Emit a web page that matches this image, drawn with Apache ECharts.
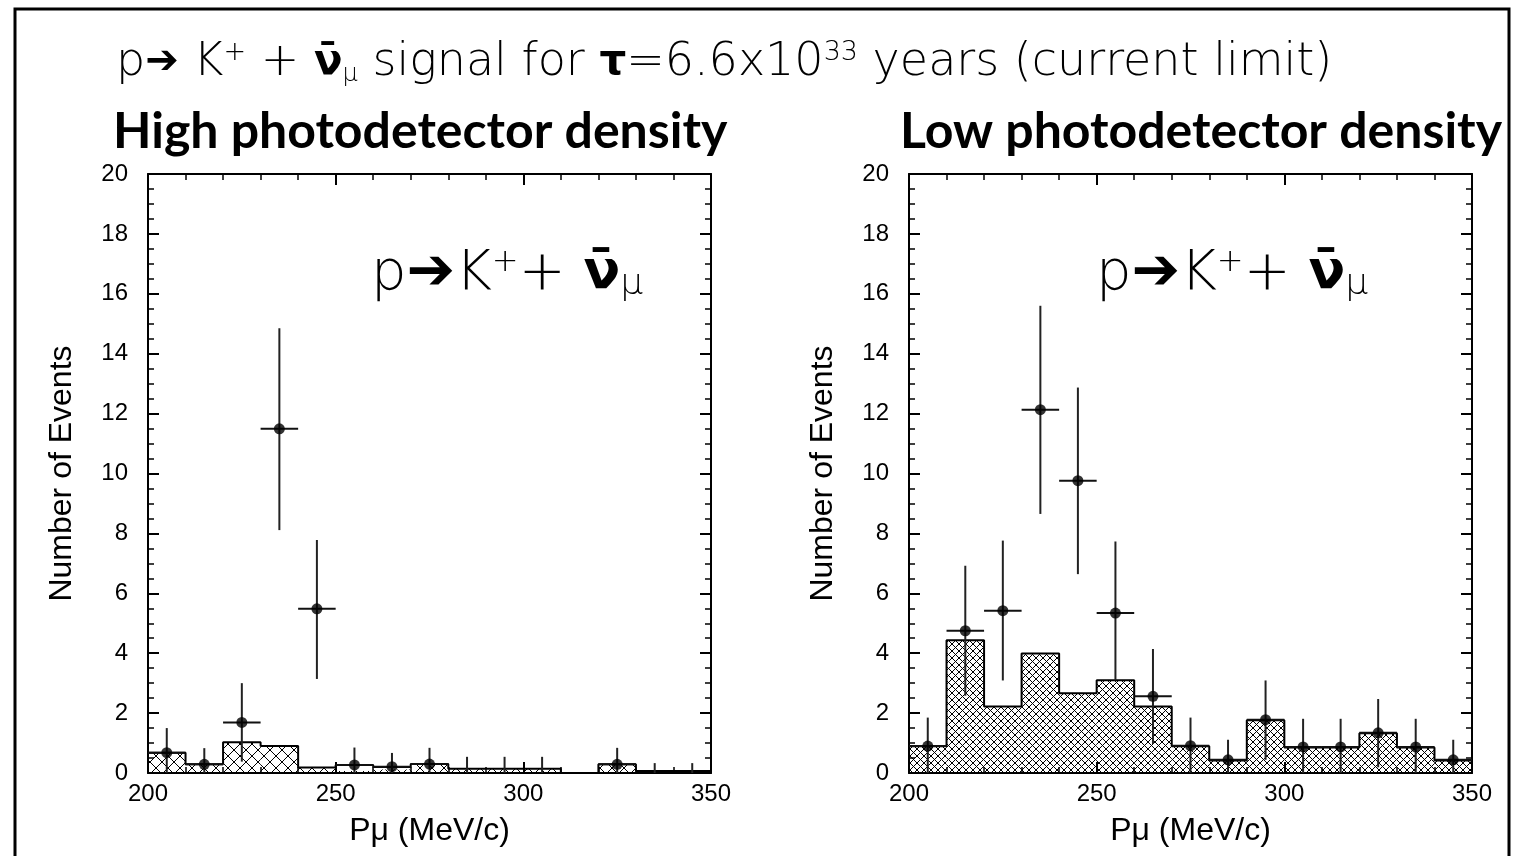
<!DOCTYPE html>
<html><head><meta charset="utf-8">
<script src="https://cdn.jsdelivr.net/npm/echarts@6/dist/echarts.min.js"></script>
<style>html,body{margin:0;padding:0;background:#fff}#c{width:1513px;height:856px}</style>
</head><body><div id="c"></div>
<script>
// ---- data ----
const binEdges   = [200,210,220,230,240,250,260,270,280,290,300,310,320,330,340,350];
const binCenters = [205,215,225,235,245,255,265,275,285,295,305,315,325,335,345];
// High photodetector density
const leftHatch   = [0.68,0.29,1.03,0.90,0.18,0.07,0.12,0.30,0.14,0.14,0.14,0.00,0.29,0.07,0.07];
const leftOutline = [0.68,0.29,1.03,0.90,0.18,0.27,0.20,0.30,0.14,0.14,0.14,0.00,0.29,0.07,0.07];
const leftY    = [0.68,0.29,1.69,11.49,5.48,0.27,0.21,0.30,0,0,0,null,0.29,0,0];
const leftLo   = [0,0,0.38,8.11,3.14,0,0,0,0,0,0,null,0,0,0];
const leftHi   = [1.50,0.83,3.00,14.85,7.78,0.85,0.67,0.84,0.54,0.54,0.54,null,0.84,0.33,0.33];
// Low photodetector density
const rightHatch = [0.89,4.43,2.22,3.99,2.66,3.10,2.22,0.89,0.42,1.76,0.85,0.85,1.33,0.85,0.42];
const rightY  = [0.90,4.75,5.42,12.13,9.76,5.34,2.56,0.91,0.44,1.78,0.87,0.87,1.34,0.87,0.44];
const rightLo = [0,2.58,3.09,8.65,6.64,3.09,0.97,0,0,0.44,0,0,0.19,0,0];
const rightHi = [1.85,6.92,7.76,15.6,12.87,7.73,4.14,1.85,1.11,3.09,1.81,1.81,2.47,1.81,1.11];
const xRange = {min:200, max:350, interval:50};
const yRange = {min:0, max:20, interval:2};
const panelTitles = ['High photodetector density','Low photodetector density'];
const xName = 'Pμ (MeV/c)';
const yName = 'Number of Events';

// ---- patterns ----
function hatch(p, lw){
  const c = document.createElement('canvas'); c.width = p; c.height = p;
  const g = c.getContext('2d');
  g.strokeStyle = '#000'; g.lineWidth = lw;
  g.beginPath();
  g.moveTo(-1,-1); g.lineTo(p+1,p+1);
  g.moveTo(p+1,-1); g.lineTo(-1,p+1);
  g.stroke();
  return {image:c, repeat:'repeat'};
}
const patL = hatch(12, 1);
const patR = hatch(7, 1);

const chart = echarts.init(document.getElementById('c'), null, {renderer:'canvas'});
const tickFont = {color:'#000', fontSize:24, fontFamily:'Liberation Sans'};
const nameFont = {color:'#000', fontSize:32, fontFamily:'Liberation Sans'};
function xAxes(gi){
  const base = {gridIndex:gi, type:'value', min:xRange.min, max:xRange.max, interval:xRange.interval,
    axisLine:{onZero:false, lineStyle:{color:'#000', width:2}},
    axisTick:{inside:true, length:11, lineStyle:{color:'#000', width:2}},
    minorTick:{show:true, splitNumber:5, length:6, lineStyle:{color:'#000', width:1.5}},
    splitLine:{show:false}, minorSplitLine:{show:false}};
  return [
    Object.assign({}, base, {position:'bottom', axisLabel:Object.assign({margin:9}, tickFont),
      name:xName, nameLocation:'middle', nameGap:42, nameTextStyle:nameFont}),
    Object.assign({}, base, {position:'top', axisLabel:{show:false}})
  ];
}
function yAxes(gi){
  const base = {gridIndex:gi, type:'value', min:yRange.min, max:yRange.max, interval:yRange.interval,
    axisLine:{onZero:false, lineStyle:{color:'#000', width:2}},
    axisTick:{inside:true, length:11, lineStyle:{color:'#000', width:2}},
    minorTick:{show:true, splitNumber:4, length:6, lineStyle:{color:'#000', width:1.5}},
    splitLine:{show:false}, minorSplitLine:{show:false}};
  return [
    Object.assign({}, base, {position:'left', axisLabel:Object.assign({margin:20}, tickFont),
      name:yName, nameLocation:'middle', nameGap:70, nameTextStyle:nameFont}),
    Object.assign({}, base, {position:'right', axisLabel:{show:false}})
  ];
}
function panelSeries(gi, hatchVals, outlineVals, ys, los, his, pat){
  const xi = gi*2, yi = gi*2;
  const hatchData = hatchVals.map((h,i)=>[binEdges[i], binEdges[i+1], h]);
  const outline = binEdges.map((e,i)=>[e, outlineVals[Math.min(i, outlineVals.length-1)]]);
  const errData = [];
  binCenters.forEach((x,i)=>{ if (ys[i] !== null) errData.push([x, ys[i], los[i], his[i]]); });
  const dots = [];
  binCenters.forEach((x,i)=>{ if (ys[i] !== null && ys[i] > 0) dots.push([x, ys[i]]); });
  return [
    {type:'custom', xAxisIndex:xi, yAxisIndex:yi, data:hatchData, encode:{x:[0,1], y:2}, z:2, silent:true,
      renderItem:(params, api)=>{
        const p0 = api.coord([api.value(0), 0]);
        const p1 = api.coord([api.value(1), api.value(2)]);
        return {type:'rect', shape:{x:p0[0], y:p1[1], width:p1[0]-p0[0], height:p0[1]-p1[1]},
          style:{fill:pat, stroke:null}};
      }},
    {type:'line', xAxisIndex:xi, yAxisIndex:yi, data:outline, step:'end', symbol:'none', z:3, silent:true,
      lineStyle:{color:'#000', width:2}},
    {type:'custom', xAxisIndex:xi, yAxisIndex:yi, data:errData, encode:{x:0, y:[1,2,3]}, z:4, silent:true,
      renderItem:(params, api)=>{
        const x = api.value(0), y = api.value(1), lo = api.value(2), hi = api.value(3);
        const a = api.coord([x, lo]), b = api.coord([x, hi]);
        const ch = [{type:'line', shape:{x1:a[0], y1:a[1], x2:b[0], y2:b[1]}, style:{stroke:'#222', lineWidth:2}}];
        if (y > 0) {
          const l = api.coord([x-5, y]), r = api.coord([x+5, y]);
          ch.push({type:'line', shape:{x1:l[0], y1:l[1], x2:r[0], y2:r[1]}, style:{stroke:'#111', lineWidth:2}});
        }
        return {type:'group', children:ch};
      }},
    {type:'scatter', xAxisIndex:xi, yAxisIndex:yi, data:dots, symbol:'circle', symbolSize:11, z:5, silent:true,
      itemStyle:{color:'#000'}}
  ];
}

const THIN = 'DejaVu Sans';
const richThin = {
  t:{fontFamily:THIN, fontWeight:200, fontSize:46, color:'#000', lineHeight:56},
  tb:{fontFamily:'DejaVu Sans', fontWeight:'bold', fontSize:42, color:'#000', lineHeight:56},
  ar:{fontFamily:'DejaVu Sans', fontWeight:'bold', fontSize:40, color:'#000', lineHeight:56},
  nu:{fontFamily:'DejaVu Sans', fontWeight:'bold', fontSize:42, color:'#000', lineHeight:56},
  sub:{fontFamily:THIN, fontWeight:200, fontSize:24, color:'#000', lineHeight:24, verticalAlign:'bottom', padding:[0,0,4,0]},
  sup:{fontFamily:THIN, fontWeight:200, fontSize:27, color:'#000', lineHeight:27, verticalAlign:'top', padding:[4,0,0,0]}
};
const richIn = {
  t:{fontFamily:THIN, fontWeight:200, fontSize:56, color:'#000', lineHeight:66},
  ar:{fontFamily:'DejaVu Sans', fontWeight:'bold', fontSize:58, color:'#000', lineHeight:66},
  nu:{fontFamily:'DejaVu Sans', fontWeight:'bold', fontSize:54, color:'#000', lineHeight:66},
  sub:{fontFamily:THIN, fontWeight:200, fontSize:36, color:'#000', lineHeight:36, verticalAlign:'bottom', padding:[0,0,4,0]},
  sup:{fontFamily:THIN, fontWeight:200, fontSize:32, color:'#000', lineHeight:32, verticalAlign:'top', padding:[6,0,0,0]}
};
const mainTitle = '{t|p}{ar|➔}{t| K}{sup|+}{t| + }{nu|ν̄}{sub|μ}{t| signal for }{tb|τ}{t|=6.6x10}{sup|33}{t| years (current limit)}';
const innerLabel = '{t|p}{ar|➔}{t|K}{sup|+}{t|+ }{nu|ν̄}{sub|μ}';
const boldTitle = {fontFamily:'Lato', fontWeight:'bold', fontSize:50, color:'#000'};

chart.setOption({
  animation:false,
  backgroundColor:'#fff',
  title:[
    {text:mainTitle, left:111, top:30, textStyle:{fontWeight:'normal', rich:richThin}},
    {text:panelTitles[0], left:108, top:102, textStyle:boldTitle},
    {text:panelTitles[1], left:895, top:102, textStyle:boldTitle},
    {text:innerLabel, left:366, top:236, textStyle:{fontWeight:'normal', rich:richIn}},
    {text:innerLabel, left:1091, top:236, textStyle:{fontWeight:'normal', rich:richIn}}
  ],
  graphic:[{type:'rect', shape:{x:15, y:9, width:1494, height:900}, style:{fill:'none', stroke:'#000', lineWidth:3}, z:100}],
  grid:[
    {left:148, top:174, width:563, height:599},
    {left:909, top:174, width:563, height:599}
  ],
  xAxis:[...xAxes(0), ...xAxes(1)],
  yAxis:[...yAxes(0), ...yAxes(1)],
  series:[
    ...panelSeries(0, leftHatch, leftOutline, leftY, leftLo, leftHi, patL),
    ...panelSeries(1, rightHatch, rightHatch, rightY, rightLo, rightHi, patR)
  ]
});
</script></body></html>
